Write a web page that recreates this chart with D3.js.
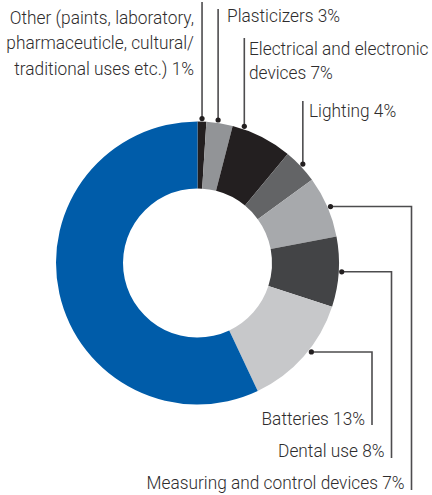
<!DOCTYPE html>
<html>
<head>
<meta charset="utf-8">
<script src="https://cdn.jsdelivr.net/npm/d3@7"></script>
<style>
  html, body { margin: 0; padding: 0; background: #fff; }
  svg { display: block; }
  text { font-family: Roboto, "Liberation Sans", sans-serif; font-weight: 300; font-size: 19px; fill: #2e2c2d; }
</style>
</head>
<body>
<script>
// data (percent, clockwise from 12 o'clock)
var categories = ["Other", "Plasticizers", "Electrical and electronic devices", "Lighting",
                  "Measuring and control devices", "Dental use", "Batteries", "Unlabelled"];
var values = [1, 3, 7, 4, 7, 8, 13, 57];
var labelLines = [
	["Other (paints, laboratory,", "pharmaceuticle, cultural/", "traditional uses etc.) 1%"],
	["Plasticizers 3%"],
	["Electrical and electronic", "devices 7%"],
	["Lighting 4%"],
	["Measuring and control devices 7%"],
	["Dental use 8%"],
	["Batteries 13%"],
	[]
];

// looks
var colors = ["#231f20", "#929497", "#231f20", "#636466", "#a7a9ac", "#434446", "#c7c8ca", "#005ca9"];

// where each callout goes (angle of the dot in degrees, then the leader)
var callouts = [
	{ ang: 1.8,  kind: "up",    top: 2,   tx: 194, anchor: "end",   y0: 24,  dy: 25.5 },
	{ ang: 8.2,  kind: "up",    top: 9,   tx: 227, anchor: "start", y0: 22,  dy: 25 },
	{ ang: 18.9, kind: "up",    top: 38,  tx: 249, anchor: "start", y0: 55,  dy: 24 },
	{ ang: 46.8, kind: "up",    top: 101, tx: 309, anchor: "start", y0: 117, dy: 24 },
	{ ang: 67,   kind: "elbow", ex: 411.5, bottom: 490, y0: 489 },
	{ ang: 93.5, kind: "elbow", ex: 391.5, bottom: 458, y0: 457 },
	{ ang: 128,  kind: "elbow", ex: 372,   bottom: 425, y0: 425 }
];

var W = 432, H = 495;
var cx = 197.5, cy = 263;
var rOuter = 141.5, rInner = 74.5, rDot = 144.5;

var svg = d3.select("body").append("svg")
	.attr("width", W)
	.attr("height", H);

// the original face is a light condensed one, squeeze roboto light to match
var probe = svg.append("text").text("Measuring and control devices 7%");
var sx = 258 / probe.node().getComputedTextLength();
probe.remove();

var pie = d3.pie().sort(null).value(function (d) { return d; });
var arc = d3.arc().innerRadius(rInner).outerRadius(rOuter);

var g = svg.append("g").attr("transform", "translate(" + cx + "," + cy + ")");

g.selectAll("path.slice")
	.data(pie(values))
	.enter().append("path")
	.attr("class", "slice")
	.attr("d", arc)
	.attr("fill", function (d, i) { return colors[i]; });

// leaders + labels
callouts.forEach(function (c, i) {
	var a = c.ang * Math.PI / 180;
	var px = cx + rDot * Math.sin(a);
	var py = cy - rDot * Math.cos(a);
	var line;
	if (c.kind == "up") {
		line = [[px, py], [px, c.top]];
	} else {
		line = [[px, py], [c.ex, py], [c.ex, c.bottom]];
	}
	svg.append("path")
		.attr("d", d3.line()(line))
		.attr("fill", "none")
		.attr("stroke", "#4d4c4e")
		.attr("stroke-width", 1.6);
	svg.append("circle")
		.attr("cx", px)
		.attr("cy", py)
		.attr("r", 2.6)
		.attr("fill", "#231f20");

	var x0 = c.kind == "up" ? c.tx : c.ex - 7;
	var t = svg.append("text")
		.attr("transform", "translate(" + x0 + ",0) scale(" + sx + ",1)")
		.attr("text-anchor", c.kind == "up" ? c.anchor : "end");
	labelLines[i].forEach(function (s, j) {
		t.append("tspan")
			.attr("x", 0)
			.attr("y", c.y0 + j * (c.dy || 0))
			.text(s);
	});
});
</script>
</body>
</html>
